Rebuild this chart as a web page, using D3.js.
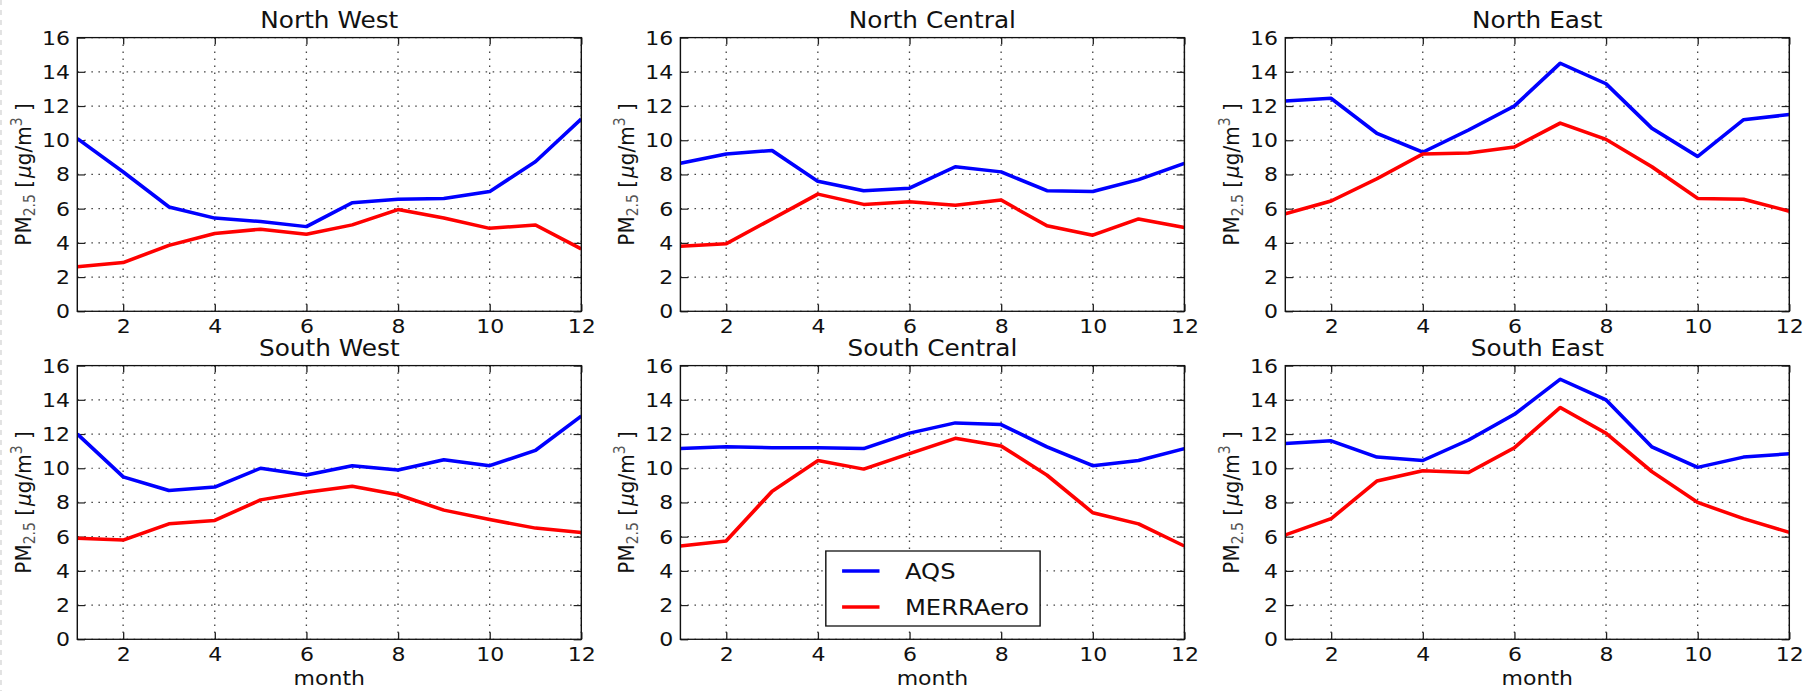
<!DOCTYPE html>
<html>
<head>
<meta charset="utf-8">
<script src="https://cdn.jsdelivr.net/npm/d3@7"></script>
<style>
    body { margin: 0; background: #fff; }
    svg text { font-family: "DejaVu Sans", sans-serif; }
</style>
</head>
<body>
<div class="chart"></div>
<script>
let months = [1, 2, 3, 4, 5, 6, 7, 8, 9, 10, 11, 12];
let xTickValues = [2, 4, 6, 8, 10, 12];
let yTickValues = [0, 2, 4, 6, 8, 10, 12, 14, 16];
let regionNames = ["North West", "North Central", "North East", "South West", "South Central", "South East"];
let seriesNames = ["AQS", "MERRAero"];
let seriesColors = ["#0000ff", "#ff0000"];

let aqsNorthWest   = [10.1, 8.15, 6.1, 5.45, 5.25, 4.95, 6.35, 6.55, 6.6, 7.0, 8.75, 11.25];
let merraNorthWest = [2.6, 2.85, 3.85, 4.55, 4.8, 4.5, 5.05, 5.95, 5.45, 4.85, 5.05, 3.65];

let aqsNorthCentral   = [8.65, 9.2, 9.4, 7.6, 7.05, 7.2, 8.45, 8.15, 7.05, 7.0, 7.7, 8.65];
let merraNorthCentral = [3.8, 3.95, 5.4, 6.85, 6.25, 6.4, 6.2, 6.5, 5.0, 4.45, 5.4, 4.9];

let aqsNorthEast   = [12.3, 12.45, 10.4, 9.3, 10.6, 12.0, 14.5, 13.3, 10.7, 9.05, 11.2, 11.5];
let merraNorthEast = [5.7, 6.45, 7.75, 9.2, 9.25, 9.6, 11.0, 10.05, 8.45, 6.6, 6.55, 5.85];

let aqsSouthWest   = [12.0, 9.5, 8.7, 8.9, 10.0, 9.6, 10.15, 9.9, 10.5, 10.15, 11.05, 13.05];
let merraSouthWest = [5.9, 5.8, 6.75, 6.95, 8.15, 8.6, 8.95, 8.45, 7.55, 7.0, 6.5, 6.25];

let aqsSouthCentral   = [11.15, 11.25, 11.2, 11.2, 11.15, 12.05, 12.65, 12.55, 11.25, 10.15, 10.45, 11.15];
let merraSouthCentral = [5.45, 5.75, 8.65, 10.45, 9.95, 10.85, 11.75, 11.3, 9.6, 7.4, 6.75, 5.45];

let aqsSouthEast   = [11.45, 11.6, 10.65, 10.45, 11.65, 13.15, 15.2, 14.0, 11.25, 10.05, 10.65, 10.85];
let merraSouthEast = [6.1, 7.05, 9.25, 9.85, 9.75, 11.2, 13.55, 12.05, 9.8, 8.0, 7.05, 6.25];

let aqsByRegion   = [aqsNorthWest, aqsNorthCentral, aqsNorthEast, aqsSouthWest, aqsSouthCentral, aqsSouthEast];
let merraByRegion = [merraNorthWest, merraNorthCentral, merraNorthEast, merraSouthWest, merraSouthCentral, merraSouthEast];

// the picture is a bit wider than it was drawn, so draw narrow and stretch
let stretch = 1.1;
let fullWidth = 1816, fullHeight = 691;
let viewWidth = fullWidth / stretch;

let panelLefts = [77.3, 680.4, 1285.3].map(v => v / stretch);
let panelTops = [37.6, 365.6];
let panelWidth = 504 / stretch;
let panelHeight = 273.7;
let tickLen = 7;

let svg = d3.select(".chart")
    .append("svg")
        .attr("width", fullWidth)
        .attr("height", fullHeight)
        .attr("viewBox", `0 0 ${viewWidth} ${fullHeight}`)
        .attr("preserveAspectRatio", "none");

svg.append("line")
    .attr("x1", 0.9).attr("x2", 0.9)
    .attr("y1", 0).attr("y2", fullHeight)
    .attr("stroke", "#ccc")
    .attr("stroke-dasharray", "5,5");

let xScale = d3.scaleLinear().domain([1, 12]).range([0, panelWidth]);
let yScale = d3.scaleLinear().domain([0, 16]).range([panelHeight, 0]);

let styleAxis = (g) => {
    g.select(".domain").remove();
    g.attr("font-size", 20)
        .attr("font-family", "DejaVu Sans, sans-serif")
        .attr("color", "#111");
    g.selectAll("line").attr("stroke", "#222").attr("stroke-width", 1.2);
};

let drawPanel = (name, i) => {
    let col = i % 3;
    let row = Math.floor(i / 3);
    let g = svg.append("g")
        .attr("transform", `translate(${panelLefts[col]}, ${panelTops[row]})`);

    g.append("clipPath")
        .attr("id", `clip${i}`)
        .append("rect")
            .attr("width", panelWidth)
            .attr("height", panelHeight);

    // dotted grid
    g.append("g").selectAll("line")
        .data(xTickValues)
        .enter()
        .append("line")
        .attr("x1", d => xScale(d)).attr("x2", d => xScale(d))
        .attr("y1", 0).attr("y2", panelHeight)
        .attr("stroke", "#444")
        .attr("stroke-width", 1.2)
        .attr("stroke-dasharray", "1.5,5.5");
    g.append("g").selectAll("line")
        .data(yTickValues)
        .enter()
        .append("line")
        .attr("x1", 0).attr("x2", panelWidth)
        .attr("y1", d => yScale(d)).attr("y2", d => yScale(d))
        .attr("stroke", "#444")
        .attr("stroke-width", 1.2)
        .attr("stroke-dasharray", "1.4,5");

    // ticks pointing inward on all four sides
    g.append("g")
        .attr("transform", `translate(0, ${panelHeight})`)
        .call(d3.axisBottom(xScale).tickValues(xTickValues).tickSize(-tickLen).tickPadding(7.2))
        .call(styleAxis);
    g.append("g")
        .call(d3.axisTop(xScale).tickValues(xTickValues).tickSize(-tickLen).tickFormat(""))
        .call(styleAxis);
    g.append("g")
        .call(d3.axisLeft(yScale).tickValues(yTickValues).tickSize(-tickLen).tickPadding(6.6))
        .call(styleAxis);
    g.append("g")
        .attr("transform", `translate(${panelWidth}, 0)`)
        .call(d3.axisRight(yScale).tickValues(yTickValues).tickSize(-tickLen).tickFormat(""))
        .call(styleAxis);

    let line = d3.line()
        .x((d, k) => xScale(months[k]))
        .y(d => yScale(d));

    [aqsByRegion[i], merraByRegion[i]].forEach((values, s) => {
        g.append("path")
            .datum(values)
            .attr("clip-path", `url(#clip${i})`)
            .attr("fill", "none")
            .attr("stroke", seriesColors[s])
            .attr("stroke-width", 3.5)
            .attr("stroke-linejoin", "round")
            .attr("d", line);
    });

    g.append("rect")
        .attr("width", panelWidth)
        .attr("height", panelHeight)
        .attr("fill", "none")
        .attr("stroke", "#111")
        .attr("stroke-width", 1.3);

    g.append("text")
        .attr("x", panelWidth / 2)
        .attr("y", -9.3)
        .attr("text-anchor", "middle")
        .attr("font-size", 22.5)
        .attr("fill", "#111")
        .text(name);

    let ylabel = g.append("text")
        .attr("transform", `translate(${-46.5 / stretch}, ${panelHeight / 2}) rotate(-90)`)
        .attr("text-anchor", "middle")
        .attr("font-size", 20)
        .attr("fill", "#111");
    ylabel.append("tspan").text("PM");
    ylabel.append("tspan").attr("dy", 4).attr("font-size", 14).attr("fill", "#555").text("2.5");
    ylabel.append("tspan").attr("dy", -4).text(" [");
    ylabel.append("tspan").attr("dx", 2).attr("font-style", "italic").text("\u03bc");
    ylabel.append("tspan").text("g/m");
    ylabel.append("tspan").attr("dy", -8).attr("font-size", 14).attr("fill", "#555").text("3");
    ylabel.append("tspan").attr("dy", 8).text(" ]");

    if (row === 1) {
        g.append("text")
            .attr("x", panelWidth / 2)
            .attr("y", panelHeight + 45.7)
            .attr("text-anchor", "middle")
            .attr("font-size", 20)
            .attr("fill", "#111")
            .text("month");
    }

    if (i === 4) {
        let legend = g.append("g");
        legend.append("rect")
            .attr("x", 132.2)
            .attr("y", 185.4)
            .attr("width", 194.8)
            .attr("height", 75)
            .attr("fill", "#fff")
            .attr("stroke", "#111")
            .attr("stroke-width", 1.3);
        seriesNames.forEach((s, k) => {
            let ly = 205.4 + k * 36;
            legend.append("line")
                .attr("x1", 147).attr("x2", 181)
                .attr("y1", ly).attr("y2", ly)
                .attr("stroke", seriesColors[k])
                .attr("stroke-width", 3.5);
            legend.append("text")
                .attr("x", 204.2)
                .attr("y", ly + 8)
                .attr("font-size", 22)
                .attr("fill", "#111")
                .text(s);
        });
    }
};

regionNames.forEach(drawPanel);
</script>
</body>
</html>
